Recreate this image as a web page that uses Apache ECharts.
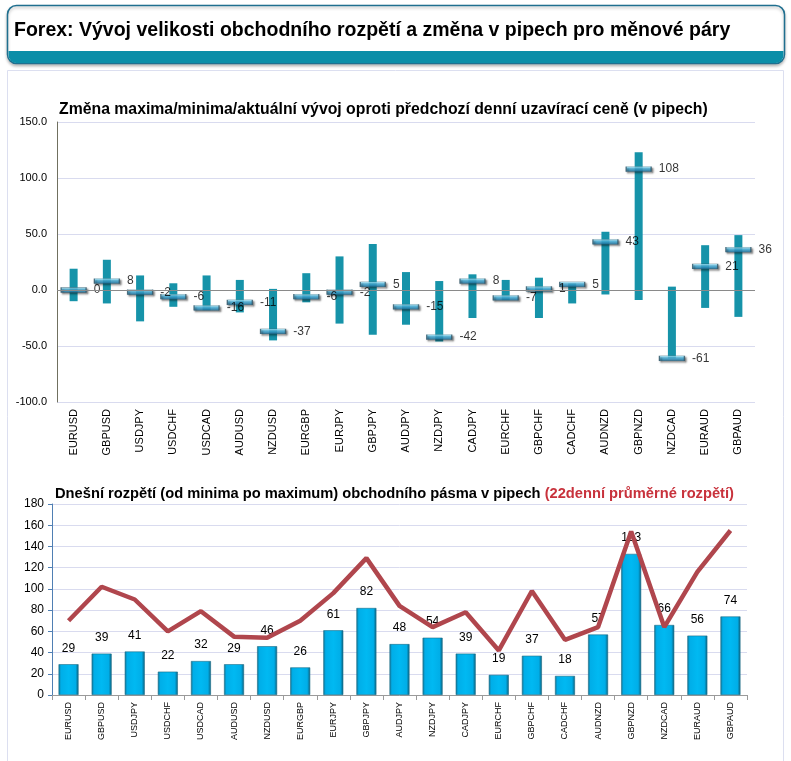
<!DOCTYPE html>
<html>
<head>
<meta charset="utf-8">
<script src="https://cdn.jsdelivr.net/npm/echarts@6/dist/echarts.min.js"></script>
<style>
html,body{margin:0;padding:0;background:#fff;}
#c{width:791px;height:761px;}
</style>
</head>
<body>
<div id="c"></div>
<script>
// ---- data ----
const pairs = ['EURUSD','GBPUSD','USDJPY','USDCHF','USDCAD','AUDUSD','NZDUSD','EURGBP','EURJPY','GBPJPY','AUDJPY','NZDJPY','CADJPY','EURCHF','GBPCHF','CADCHF','AUDNZD','GBPNZD','NZDCAD','EURAUD','GBPAUD'];
const changeMax = [19, 27, 13, 6, 13, 9, 1, 15, 30, 41, 16, 8, 14, 9, 11, 6, 52, 123, 3, 40, 49];
const changeMin = [-10, -12, -28, -15, -18, -20, -45, -11, -30, -40, -31, -46, -25, -9, -25, -12, -4, -9, -61, -16, -24];
const changeNow = [0, 8, -2, -6, -16, -11, -37, -6, -2, 5, -15, -42, 8, -7, 1, 5, 43, 108, -61, 21, 36];
const rangeToday = [29, 39, 41, 22, 32, 29, 46, 26, 61, 82, 48, 54, 39, 19, 37, 18, 57, 133, 66, 56, 74];
const range22 = [70, 102, 90, 60, 79, 55, 54, 70, 96, 129, 84, 64, 78, 42, 98, 52, 64, 154, 64, 116, 155];
const topTicks = {min: -100, max: 150, interval: 50};
const botTicks = {min: 0, max: 180, interval: 20};

const chart = echarts.init(document.getElementById('c'), null, {renderer: 'canvas'});
const FONT = 'Liberation Sans, Arial, sans-serif';

const option = {
  animation: false,
  backgroundColor: '#ffffff',
  textStyle: {fontFamily: FONT},
  graphic: [
    // outer panel
    {type: 'rect', shape: {x: 7.5, y: 70.5, width: 776, height: 700}, style: {fill: 'none', stroke: '#dcdff0', lineWidth: 1}, z: 0},
    // header box
    {type: 'rect', shape: {x: 7.5, y: 5.5, width: 777, height: 58, r: 9}, style: {fill: '#ffffff', stroke: '#1f6f8f', lineWidth: 1.5, shadowColor: 'rgba(0,0,0,0.25)', shadowBlur: 3, shadowOffsetY: 2}, z: 1},
    {type: 'rect', shape: {x: 8.5, y: 51, width: 775, height: 12, r: [0, 0, 8, 8]}, style: {fill: '#0b8ea8'}, z: 2},
    {type: 'text', x: 14, y: 31, style: {text: 'Forex: Vývoj velikosti obchodního rozpětí a změna v pipech pro měnové páry', font: 'bold 19.5px ' + FONT, fill: '#000', textVerticalAlign: 'middle'}, z: 3},
    // chart titles
    {type: 'text', x: 59, y: 110, style: {text: 'Změna maxima/minima/aktuální vývoj oproti předchozí denní uzavírací ceně (v pipech)', font: 'bold 15.8px ' + FONT, fill: '#000', textVerticalAlign: 'middle'}, z: 3},
    {type: 'text', x: 55, y: 494, style: {
      text: '{a|Dnešní rozpětí (od minima po maximum) obchodního pásma v pipech }{b|(22denní průměrné rozpětí)}',
      rich: {a: {font: 'bold 14.7px ' + FONT, fill: '#000'}, b: {font: 'bold 14.7px ' + FONT, fill: '#c8323c'}},
      textVerticalAlign: 'middle'}, z: 3}
  ],
  grid: [
    {left: 57, top: 122, width: 698, height: 280},
    {left: 52, top: 504, width: 695, height: 191}
  ],
  xAxis: [
    {gridIndex: 0, type: 'category', data: pairs, boundaryGap: true,
     axisLine: {show: false, onZero: false}, axisTick: {show: false},
     axisLabel: {rotate: 90, fontSize: 11, color: '#000', margin: 7, fontFamily: FONT}},
    {gridIndex: 1, type: 'category', data: pairs, boundaryGap: true,
     axisLine: {show: true, lineStyle: {color: '#9a9a9a'}}, axisTick: {show: true, length: 5, lineStyle: {color: '#9a9a9a'}},
     axisLabel: {rotate: 90, fontSize: 9, color: '#000', margin: 7, fontFamily: FONT}}
  ],
  yAxis: [
    {gridIndex: 0, type: 'value', min: topTicks.min, max: topTicks.max, interval: topTicks.interval,
     axisLine: {show: true, lineStyle: {color: '#707060'}}, axisTick: {show: false},
     splitLine: {show: true, lineStyle: {color: '#d9dbef'}},
     axisLabel: {color: '#000', fontSize: 11, margin: 10, formatter: v => v.toFixed(1)}},
    {gridIndex: 1, type: 'value', min: botTicks.min, max: botTicks.max, interval: botTicks.interval,
     axisLine: {show: true, lineStyle: {color: '#4f7fb3'}}, axisTick: {show: true, length: 4, lineStyle: {color: '#4f7fb3'}},
     splitLine: {show: true, lineStyle: {color: '#d9dbef'}},
     axisLabel: {color: '#000', fontSize: 12, margin: 8}}
  ],
  series: [
    {
      type: 'custom', xAxisIndex: 0, yAxisIndex: 0, z: 2,
      data: pairs.map((p, i) => [i, changeMin[i], changeMax[i]]),
      renderItem: function (params, api) {
        const lo = api.coord([api.value(0), api.value(1)]);
        const hi = api.coord([api.value(0), api.value(2)]);
        return {type: 'rect', shape: {x: lo[0] - 4, y: hi[1], width: 8, height: lo[1] - hi[1]},
                style: {fill: '#1693a9'}};
      }
    },
    {
      type: 'scatter', xAxisIndex: 0, yAxisIndex: 0, z: 3,
      data: changeNow,
      symbol: 'rect', symbolSize: [25, 5],
      itemStyle: {
        color: new echarts.graphic.LinearGradient(0, 0, 0, 1, [
          {offset: 0, color: '#b4ecfb'}, {offset: 0.45, color: '#46b8e6'}, {offset: 1, color: '#1b6e9b'}]),
        borderColor: '#2f5566', borderWidth: 0.6,
        shadowColor: 'rgba(0,0,0,0.55)', shadowBlur: 2, shadowOffsetX: 1.5, shadowOffsetY: 1.5
      },
      label: {show: true, position: 'right', distance: 7, color: '#000', fontSize: 12, fontFamily: FONT},
      markLine: {silent: true, symbol: 'none', label: {show: false},
                 lineStyle: {color: '#8a8a8a', width: 1, type: 'solid'}, data: [{yAxis: 0}]}
    },
    {
      type: 'bar', xAxisIndex: 1, yAxisIndex: 1, z: 2,
      data: rangeToday, barWidth: 20,
      itemStyle: {
        color: new echarts.graphic.LinearGradient(0, 0, 1, 0, [
          {offset: 0, color: '#13708f'}, {offset: 0.12, color: '#00aee8'}, {offset: 0.5, color: '#00b9f2'},
          {offset: 0.85, color: '#00aee8'}, {offset: 1, color: '#0b5f7c'}]),
        borderColor: '#1c6c86', borderWidth: 0.6
      },
      label: {show: true, position: 'top', distance: 10, color: '#000', fontSize: 12, fontFamily: FONT}
    },
    {
      type: 'line', xAxisIndex: 1, yAxisIndex: 1, z: 4,
      data: range22, symbol: 'none', smooth: false,
      lineStyle: {color: '#b0464d', width: 4.5}
    }
  ]
};
chart.setOption(option);
</script>
</body>
</html>
